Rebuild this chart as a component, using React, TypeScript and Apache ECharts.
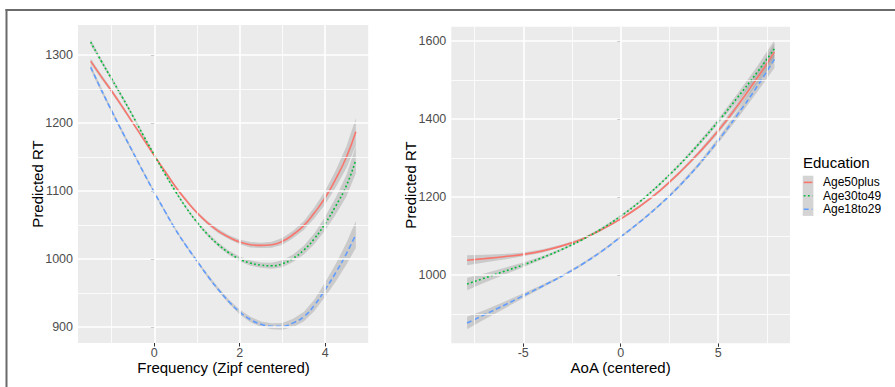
import React, { useEffect, useRef } from 'react';
import * as echarts from 'echarts';

// ---- categories / legend ----
const groups = ['Age50plus', 'Age30to49', 'Age18to29'];
const legendTitle = 'Education';

// ---- left panel: Frequency (Zipf centered) ----
const freqX = [-1.49, -1.25, -1, -0.75, -0.5, -0.25, 0, 0.25, 0.5, 0.75, 1, 1.25, 1.5, 1.75, 2, 2.25, 2.5, 2.75, 3, 3.25, 3.5, 3.75, 4, 4.25, 4.5, 4.72];
const freqAge50plus = [1291, 1269, 1247, 1224, 1200, 1176, 1152, 1129, 1106, 1086, 1068, 1053, 1041, 1032, 1025, 1021, 1020, 1021, 1026, 1036, 1049, 1068, 1090, 1118, 1150, 1187];
const freqAge30to49 = [1319, 1292, 1265, 1238, 1210, 1181, 1153, 1125, 1099, 1075, 1054, 1036, 1021, 1009, 1000, 994, 991, 990, 993, 1001, 1013, 1030, 1052, 1078, 1108, 1146];
const freqAge18to29 = [1282, 1250, 1218, 1187, 1157, 1127, 1098, 1070, 1043, 1019, 997, 975, 955, 937, 922, 911, 904, 901, 901, 906, 915, 932, 955, 980, 1008, 1036];
const freqSe50plus = [4, 3.5, 3, 3, 2.5, 2.5, 2, 2, 2, 2, 2, 2.5, 3, 3, 3.5, 4, 4, 4.5, 5, 5.5, 6.5, 8, 10, 12.5, 16, 20];
const freqSe30to49 = [4, 3.5, 3, 3, 2.5, 2.5, 2, 2, 2, 2, 2, 2.5, 3, 3, 3.5, 4, 4, 4.5, 5, 5.5, 6.5, 8, 10, 12.5, 16, 20];
const freqSe18to29 = [4, 3.5, 3, 3, 2.5, 2.5, 2, 2, 2, 2, 2, 2.5, 3, 3, 3.5, 4, 4, 4.5, 5, 6, 7, 8.5, 10.5, 13, 16, 20];
const freqXTicks = [0, 2, 4];
const freqXMinor = [-1, 1, 3, 5];
const freqYTicks = [900, 1000, 1100, 1200, 1300];
const freqYMinor = [950, 1050, 1150, 1250];

// ---- right panel: AoA (centered) ----
const aoaX = [-7.88, -7, -6, -5, -4, -3, -2, -1, 0, 1, 2, 3, 4, 5, 6, 7, 7.88];
const aoaAge50plus = [1038, 1042, 1047, 1053, 1062, 1075, 1092, 1116, 1144, 1177, 1216, 1262, 1313, 1370, 1435, 1505, 1572];
const aoaAge30to49 = [977, 992, 1009, 1026, 1045, 1066, 1090, 1118, 1151, 1189, 1233, 1282, 1336, 1394, 1456, 1520, 1580];
const aoaAge18to29 = [877, 898, 922, 947, 972, 998, 1027, 1060, 1098, 1137, 1180, 1228, 1283, 1345, 1412, 1484, 1553];
const aoaSe50plus = [13, 10, 7, 5, 4, 3, 3, 3, 3, 3, 3, 4, 5, 7, 10, 15, 22];
const aoaSe30to49 = [16, 12, 9, 6, 4, 3, 3, 3, 3, 3, 3, 4, 5, 7, 10, 15, 22];
const aoaSe18to29 = [16, 12, 9, 6, 4, 3, 3, 3, 3, 3, 3, 4, 5, 7, 10, 15, 22];
const aoaXTicks = [-5, 0, 5];
const aoaXMinor = [-7.5, -2.5, 2.5, 7.5];
const aoaYTicks = [1000, 1200, 1400, 1600];
const aoaYMinor = [900, 1100, 1300, 1500];

const COLORS = ['#F8766D', '#00BA38', '#619CFF'];
const DASHES: any[] = ['solid', [1.8, 2.4], [5, 3]];
const FONT = '"Liberation Sans", Arial, Helvetica, sans-serif';

function gridSeries(idx: number, xMaj: number[], xMin: number[], yMaj: number[], yMin: number[]) {
  const maj = { color: '#FFFFFF', width: 1.6, type: 'solid' };
  const min = { color: '#FFFFFF', width: 0.8, type: 'solid' };
  return {
    type: 'line',
    xAxisIndex: idx,
    yAxisIndex: idx,
    data: [],
    z: 1,
    silent: true,
    markLine: {
      silent: true,
      animation: false,
      symbol: ['none', 'none'],
      label: { show: false },
      emphasis: { disabled: true },
      data: [
        ...xMin.map((v) => ({ xAxis: v, lineStyle: min })),
        ...yMin.map((v) => ({ yAxis: v, lineStyle: min })),
        ...xMaj.map((v) => ({ xAxis: v, lineStyle: maj })),
        ...yMaj.map((v) => ({ yAxis: v, lineStyle: maj })),
      ],
    },
  };
}

function ribbonSeries(idx: number, xs: number[], ys: number[], se: number[]) {
  return {
    type: 'custom',
    xAxisIndex: idx,
    yAxisIndex: idx,
    z: 2,
    silent: true,
    clip: true,
    data: xs.map((x, j) => [x, ys[j] - se[j], ys[j] + se[j]]),
    encode: { x: 0, y: [1, 2] },
    renderItem: (params: any, api: any) => {
      if (params.dataIndex !== 0) return null;
      const upper = xs.map((x, j) => api.coord([x, ys[j] + se[j]]));
      const lower = xs.map((x, j) => api.coord([x, ys[j] - se[j]])).reverse();
      return {
        type: 'polygon',
        shape: { points: [...upper, ...lower] },
        style: { fill: 'rgba(153,153,153,0.4)', stroke: 'none' },
      };
    },
  };
}

function panelSeries(idx: number, xs: number[], ys: number[][], ses: number[][]) {
  const out: any[] = [];
  ys.forEach((y, i) => out.push(ribbonSeries(idx, xs, y, ses[i])));
  ys.forEach((y, i) => {
    out.push({
      name: groups[i], type: 'line', xAxisIndex: idx, yAxisIndex: idx, smooth: true,
      symbol: 'none', z: 3, silent: true,
      lineStyle: { color: COLORS[i], width: 1.6, type: DASHES[i] },
      data: xs.map((x, j) => [x, y[j]]),
    });
  });
  return out;
}

const fmt = (v: number) => String(v);

function xAxisCfg(idx: number, min: number, max: number, ticks: number[], name: string, gap: number) {
  return {
    type: 'value', gridIndex: idx, min, max,
    name, nameLocation: 'middle', nameGap: gap, nameMoveOverlap: false,
    nameTextStyle: { fontSize: 15, lineHeight: 15, color: '#000000', fontFamily: FONT },
    axisLine: { show: false },
    axisTick: { show: true, length: 3.5, customValues: ticks, lineStyle: { color: '#333333', width: 1 } },
    axisLabel: { show: true, customValues: ticks, formatter: fmt, margin: 4, lineHeight: 12, fontSize: 12.5, color: '#4D4D4D', fontFamily: FONT },
    splitLine: { show: false },
  };
}

function yAxisCfg(idx: number, min: number, max: number, ticks: number[], name: string, gap: number) {
  return {
    type: 'value', gridIndex: idx, min, max,
    name, nameLocation: 'middle', nameGap: gap, nameMoveOverlap: false,
    nameTextStyle: { fontSize: 15, color: '#000000', fontFamily: FONT },
    axisLine: { show: false },
    axisTick: { show: true, length: 3.5, customValues: ticks, lineStyle: { color: '#333333', width: 1 } },
    axisLabel: { show: true, customValues: ticks, formatter: fmt, margin: 5, fontSize: 12.5, color: '#4D4D4D', fontFamily: FONT },
    splitLine: { show: false },
  };
}

export default function App() {
  const ref = useRef<HTMLDivElement>(null);
  useEffect(() => {
    if (!ref.current) return;
    const chart = echarts.init(ref.current, undefined, { renderer: 'svg' });

    const keyX = 802.7;
    const keyTop = 175.7;
    const rowH = 13.4;
    const legendEls: any[] = [
      {
        type: 'text', left: 803, top: 155,
        style: { text: legendTitle, fontSize: 15, fill: '#000000', fontFamily: FONT },
      },
      {
        type: 'rect', shape: { x: keyX, y: keyTop, width: 10.7, height: rowH * groups.length },
        style: { fill: '#D4D4D4' },
      },
    ];
    groups.forEach((g, i) => {
      const cy = keyTop + rowH * (i + 0.5);
      const d = DASHES[i];
      legendEls.push({
        type: 'line',
        shape: { x1: keyX + 1, y1: cy, x2: keyX + 9.7, y2: cy },
        style: { stroke: COLORS[i], lineWidth: 1.6, lineDash: d === 'solid' ? null : d },
      });
      legendEls.push({
        type: 'text', x: 823, y: cy,
        style: { text: g, fontSize: 12, fill: '#000000', fontFamily: FONT, textVerticalAlign: 'middle', verticalAlign: 'middle' },
      });
    });

    const option: any = {
      animation: false,
      backgroundColor: '#FFFFFF',
      textStyle: { fontFamily: FONT },
      grid: [
        { left: 78, top: 25, width: 291, height: 318, show: true, backgroundColor: '#EBEBEB', borderWidth: 0, containLabel: false },
        { left: 451.3, top: 26.7, width: 338.7, height: 316.6, show: true, backgroundColor: '#EBEBEB', borderWidth: 0, containLabel: false },
      ],
      xAxis: [
        xAxisCfg(0, -1.787, 5.028, freqXTicks, 'Frequency (Zipf centered)', 17),
        xAxisCfg(1, -8.69, 8.68, aoaXTicks, 'AoA (centered)', 17),
      ],
      yAxis: [
        yAxisCfg(0, 876.4, 1344.2, freqYTicks, 'Predicted RT', 33),
        yAxisCfg(1, 825, 1636.7, aoaYTicks, 'Predicted RT', 33),
      ],
      series: [
        gridSeries(0, freqXTicks, freqXMinor, freqYTicks, freqYMinor),
        gridSeries(1, aoaXTicks, aoaXMinor, aoaYTicks, aoaYMinor),
        ...panelSeries(0, freqX, [freqAge50plus, freqAge30to49, freqAge18to29], [freqSe50plus, freqSe30to49, freqSe18to29]),
        ...panelSeries(1, aoaX, [aoaAge50plus, aoaAge30to49, aoaAge18to29], [aoaSe50plus, aoaSe30to49, aoaSe18to29]),
      ],
      graphic: [
        { type: 'line', shape: { x1: 5.5, y1: 10, x2: 895, y2: 10 }, style: { stroke: '#6B6B6B', lineWidth: 2 } },
        { type: 'line', shape: { x1: 6.5, y1: 9, x2: 6.5, y2: 387 }, style: { stroke: '#6B6B6B', lineWidth: 2 } },
        ...legendEls,
      ],
    };
    chart.setOption(option);
    return () => chart.dispose();
  }, []);
  return <div ref={ref} style={{ position: 'absolute', left: 0, top: 0, width: 895, height: 387 }} />;
}
